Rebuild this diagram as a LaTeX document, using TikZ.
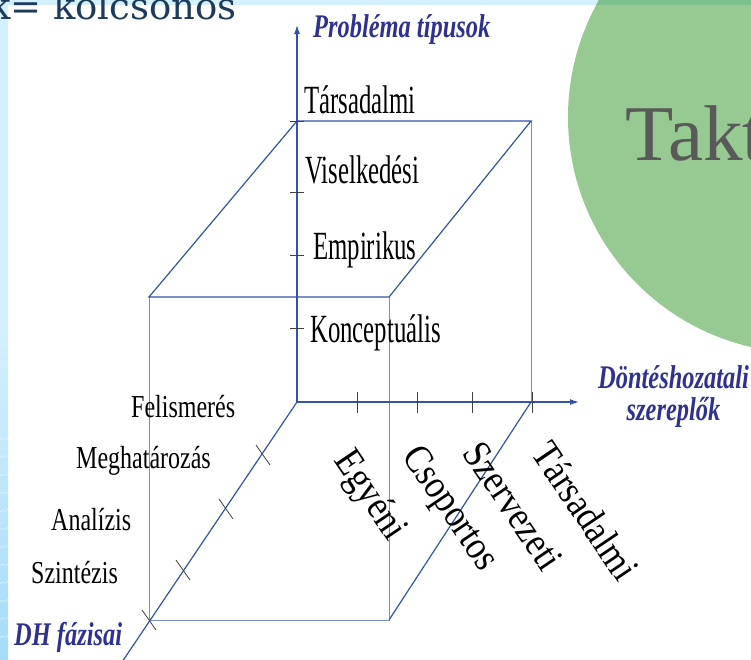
\documentclass[tikz,border=0pt]{standalone}
\usepackage{fontspec}
\setmainfont{Liberation Serif}
\newfontfamily\condfont[FakeStretch=0.62]{Liberation Serif}
\newfontfamily\leftfont[FakeStretch=0.75]{Liberation Serif}
\newfontfamily\rotfont[FakeStretch=0.87]{Liberation Serif}
\newfontfamily\titlefont[FakeStretch=0.74]{Liberation Serif}
\newfontfamily\slidefont{DejaVu Serif}
\usetikzlibrary{arrows.meta}
\definecolor{axisblue}{HTML}{3353A6}
\definecolor{faintblue}{HTML}{7A8CCA}
\definecolor{titleblue}{HTML}{2E3192}
\definecolor{stripblue}{HTML}{D3F0FC}
\definecolor{stripdeep}{HTML}{A6DCF8}
\definecolor{circlegreen}{HTML}{97C992}
\definecolor{bandgreen}{HTML}{7DBF8D}
\definecolor{slidetext}{HTML}{1F3B5C}
\definecolor{taktgrey}{HTML}{595959}
\tikzset{
  axis/.style={draw=axisblue, line width=1.2pt},
  faint/.style={draw=faintblue, line width=1pt},
  tickmark/.style={draw=black!75, line width=0.8pt},
  vlabel/.style={anchor=base west, inner sep=0pt, font=\condfont\fontsize{40}{44}\selectfont},
  llabel/.style={anchor=base west, inner sep=0pt, font=\leftfont\fontsize{32}{36}\selectfont},
  rlabel/.style={anchor=north west, inner sep=0pt, rotate=-56, font=\rotfont\fontsize{40}{44}\selectfont},
  atitle/.style={anchor=base west, inner sep=0pt, text=titleblue, font=\titlefont\bfseries\itshape\fontsize{33}{36}\selectfont},
}
\begin{document}
\begin{tikzpicture}[x=1pt, y=-1pt]
\useasboundingbox (0,0) rectangle (751,659);
\clip (0,0) rectangle (751,659);
\shade[top color=stripblue, bottom color=stripdeep, middle color=stripblue] (0,0) rectangle (8,659);
\foreach \w in {440,458,...,650}
  \draw[white, opacity=0.6, line width=0.5pt] (0,\w) .. controls (3,\w-5) and (5,\w+3) .. (8,\w-3);
\fill[stripblue] (0,0) rectangle (751,5);
\fill[circlegreen] (804,117) circle[radius=236pt];
\begin{scope}
  \clip (804,117) circle[radius=236pt];
  \fill[bandgreen] (0,0) rectangle (751,5);
\end{scope}
\node[anchor=base west, inner sep=0pt, text=taktgrey, font=\fontsize{79}{80}\selectfont] (takt) at (625,160) {Takt};
\node[anchor=base east, inner sep=0pt, text=slidetext, font=\slidefont\fontsize{37}{40}\selectfont] (mutual) at (237,19) {k= kölcsönös};
\coordinate (O) at (297,402);
\coordinate (ztip) at (297,25);
\coordinate (xtip) at (579,402);
\coordinate (yend) at (122,662);
\coordinate (bTL) at (297,121);
\coordinate (bTR) at (531,121);
\coordinate (bBR) at (531,402);
\coordinate (fTL) at (149,297);
\coordinate (fTR) at (389,297);
\coordinate (fBL) at (149,620);
\coordinate (fBR) at (389,620);
\draw[faint] (bTR) -- (bBR);
\draw[faint] (fTL) -- (fBL) -- (fBR) -- (fTR);
\draw[axis] (bTL) -- (bTR) -- (fTR) -- (fTL) -- cycle;
\draw[axis] (bBR) -- (fBR);
\draw[axis] (O) -- (yend);
\draw[axis, -{Latex[length=9pt, width=6pt]}] (O) -- (ztip);
\draw[axis, -{Latex[length=9pt, width=6pt]}] (O) -- (xtip);
\foreach \t in {121,192,255,328}
  \draw[tickmark] (290,\t) -- ++(14,0);
\foreach \t in {357,417,472,532}
  \draw[tickmark] (\t,392) -- ++(0,21);
\foreach \px/\py in {263/455,226/509,183/570,149/620}
  \draw[tickmark] (\px-7,\py-10) -- (\px+7,\py+10);
\node[atitle] (problems) at (313,37) {Probléma típusok};
\node[atitle] (decision) at (598,388) {Döntéshozatali};
\node[atitle, anchor=base] (actors) at ([yshift=-32pt]decision.base) {szereplők};
\node[atitle] (phases) at (14,645) {DH fázisai};
\node[vlabel] (social) at (304,113) {Társadalmi};
\node[vlabel] (behave) at (305,183) {Viselkedési};
\node[vlabel] (empiric) at (313,259) {Empirikus};
\node[vlabel] (concept) at (310,342) {Konceptuális};
\node[llabel] (recog) at (131,417) {Felismerés};
\node[llabel] (define) at (76,468) {Meghatározás};
\node[llabel] (analys) at (51,530) {Analízis};
\node[llabel] (synth) at (31,583) {Szintézis};
\node[rlabel] (single) at (357,445) {Egyéni};
\node[rlabel] (group) at (424,441) {Csoportos};
\node[rlabel] (organ) at (484,438) {Szervezeti};
\node[rlabel] (society) at (554,438) {Társadalmi};
\end{tikzpicture}
\end{document}
